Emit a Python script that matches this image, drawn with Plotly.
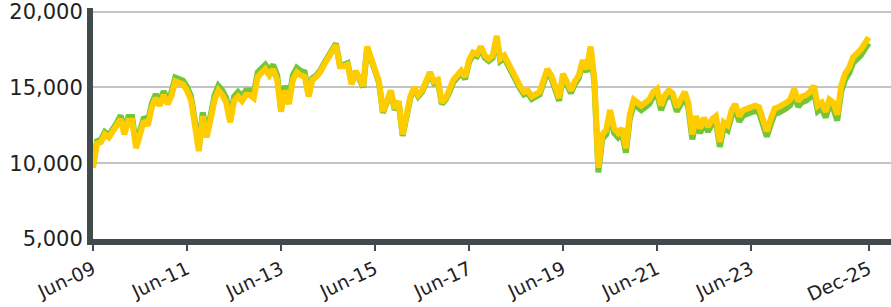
import pandas as pd
import plotly.graph_objects as go

# Month-end dates from Jun-2009 to Dec-2025
dates = pd.date_range("2009-06-30", "2025-12-31", freq="ME")

# Yellow series (top line)
yellow = [
    9700, 11300, 11400, 11900, 11700, 12200, 12500,
    12900, 11900, 12800, 12800, 11000, 12100, 12800, 12500, 13700, 14300, 13800, 14500,
    13900, 14400, 15400, 15300, 15200, 14800, 14200, 12500, 10800, 13100, 11700, 12900,
    14200, 14800, 14500, 14000, 12700, 14100, 14400, 14100, 14500, 14500, 14300, 15700,
    16000, 16200, 15800, 16200, 15500, 13400, 14800, 13900, 15500, 16000, 15800, 15700,
    14400, 15500, 15700, 16000, 16500, 16900, 17300, 17800, 16400, 16400, 16500, 15200,
    16100, 15500, 15100, 17700, 16900, 16000, 15400, 13400, 14200, 14800, 13600, 14100,
    11900, 13400, 14400, 15000, 14500, 14800, 15300, 16000, 15400, 15500, 14000, 14300,
    14900, 15500, 15800, 16100, 15700, 16800, 17300, 17200, 17700, 17100, 16900, 17100,
    18400, 16900, 17100, 16600, 16000, 15600, 15100, 14700, 14800, 14400, 14500, 14700,
    15500, 16200, 15800, 15100, 14300, 15900, 15400, 14800, 15400, 15800, 16800, 16200,
    17700, 15500, 9700, 11900, 12200, 13500, 12300, 12000, 12300, 11000, 13200, 14200,
    14000, 13800, 14000, 14200, 14700, 14900, 13800, 14500, 14800, 14600, 13700, 14200,
    14700, 14000, 11900, 13100, 12300, 13000, 12400, 12900, 13100, 11400, 12700, 12500,
    13500, 13900, 13100, 13500, 13600, 13800, 13800, 13700, 12900, 12100, 12900, 13600,
    13700, 13800, 14000, 14200, 14900, 14100, 14400, 14500, 14700, 15100, 13800, 14000,
    13400, 14200, 14000, 13200, 15100, 15900, 16300, 17000, 17200, 17500, 17900, 18300,
]

# Green series (drawn underneath)
green = [
    9850, 11450, 11550, 12050, 11850, 12350, 12650,
    13150, 12150, 13050, 13050, 11250, 12350, 13050, 12750, 13950, 14550, 14050, 14750,
    14150, 14650, 15650, 15550, 15450, 15050, 14450, 12750, 11050, 13350, 11950, 13150,
    14500, 15100, 14800, 14300, 13000, 14400, 14700, 14400, 14800, 14800, 14600, 16000,
    16300, 16500, 16100, 16500, 15800, 13700, 15100, 14200, 15800, 16300, 16100, 16000,
    14500, 15600, 15800, 16100, 16600, 17000, 17400, 17900, 16500, 16500, 16600, 15300,
    16020, 15420, 15020, 17620, 16820, 15920, 15320, 13320, 14120, 14720, 13520, 14020,
    11800, 13300, 14300, 14900, 14400, 14700, 15200, 15900, 15300, 15400, 13900, 14200,
    14750, 15350, 15650, 15950, 15550, 16650, 17150, 17050, 17550, 16950, 16750, 16950,
    18230, 16730, 16930, 16430, 15830, 15430, 14930, 14530, 14630, 14230, 14330, 14530,
    15320, 16020, 15620, 14920, 14120, 15720, 15220, 14620, 15220, 15620, 16620, 16020,
    17520, 15300, 9400, 11600, 11900, 13200, 12000, 11700, 12000, 10700, 12900, 13900,
    13700, 13500, 13700, 13900, 14400, 14600, 13500, 14200, 14500, 14300, 13400, 13900,
    14380, 13680, 11580, 12780, 11980, 12680, 12080, 12580, 12780, 11080, 12380, 12180,
    13150, 13550, 12750, 13150, 13250, 13450, 13450, 13350, 12550, 11750, 12550, 13250,
    13330, 13430, 13630, 13830, 14530, 13730, 14030, 14130, 14330, 14730, 13430, 13630,
    13020, 13820, 13620, 12820, 14720, 15520, 15920, 16620, 16820, 17120, 17520, 17920,
]

tick_dates = ["2009-06-30", "2011-06-30", "2013-06-30", "2015-06-30", "2017-06-30",
              "2019-06-30", "2021-06-30", "2023-06-30", "2025-12-31"]
tick_labels = ["Jun-09", "Jun-11", "Jun-13", "Jun-15", "Jun-17",
               "Jun-19", "Jun-21", "Jun-23", "Dec-25"]
y_ticks = [5000, 10000, 15000, 20000]

AXIS = "#414B4C"

fig = go.Figure()
fig.add_trace(go.Scatter(x=dates, y=green, mode="lines",
                         line=dict(color="#72C63A", width=6), showlegend=False))
fig.add_trace(go.Scatter(x=dates, y=yellow, mode="lines",
                         line=dict(color="#FFCC00", width=6), showlegend=False))

fig.update_layout(
    width=891, height=307,
    margin=dict(l=93, r=0, t=8, b=68),
    paper_bgcolor="white", plot_bgcolor="white",
    font=dict(family="DejaVu Sans", size=19, color="#222222"),
)
fig.update_xaxes(
    type="date", automargin=False,
    range=["2009-06-30", "2026-06-22"],
    tickvals=tick_dates, ticktext=tick_labels,
    tickangle=-25,
    showgrid=False, zeroline=False,
    showline=True, linecolor=AXIS, linewidth=6,
    ticks="outside", ticklen=6, tickwidth=2, tickcolor=AXIS,
    tickfont=dict(size=19),
)
fig.update_yaxes(
    range=[5000, 20240], automargin=False,
    tickvals=y_ticks, tickformat=",",
    ticklabeloverflow="allow",
    showgrid=True, gridcolor="#C4C4C4", gridwidth=2,
    zeroline=False,
    showline=True, linecolor=AXIS, linewidth=6,
    ticks="", tickfont=dict(size=21),
)

# remove the default 8px page margin so the figure fills the window exactly
fig.write_html("out.html", config={"displayModeBar": False},
               post_script="document.body.style.margin='0px';")
